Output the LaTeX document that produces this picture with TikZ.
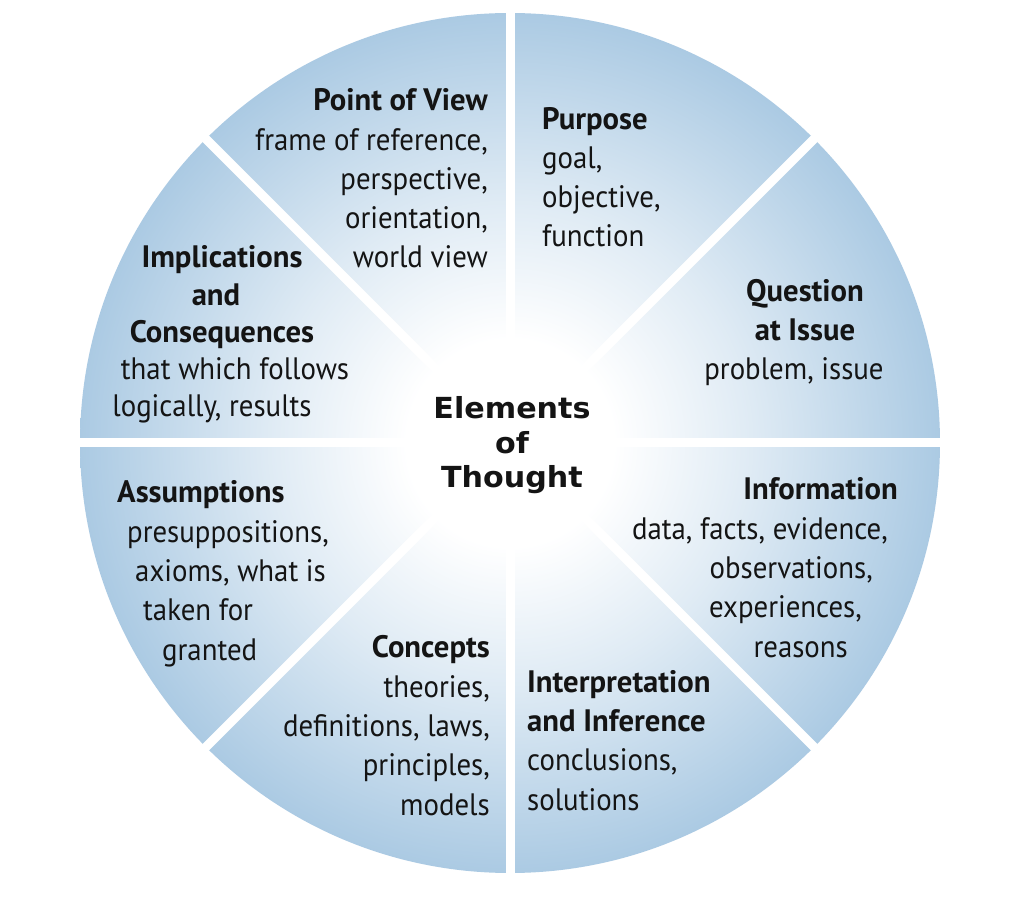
\documentclass[tikz,border=0pt]{standalone}
\usepackage{fontspec}
\setmainfont{PT Sans}[FakeStretch=0.93]
\newfontfamily\headfont{PT Sans}[FakeStretch=0.99]
\newfontfamily\titlefont{DejaVu Sans}[FakeStretch=1.04]
\newcommand{\hd}[1]{{\headfont\bfseries #1}}
\newcommand{\pad}[1]{\hspace*{#1}\mbox{}}
\definecolor{rimblue}{HTML}{ABCAE3}
\definecolor{inkblack}{HTML}{141414}
\pgfdeclareradialshading{thoughtglow}{\pgfpoint{0bp}{0bp}}{color(0bp)=(white); color(6bp)=(white); color(14bp)=(rimblue!38!white); color(25bp)=(rimblue); color(50bp)=(rimblue)}

\begin{document}
\begin{tikzpicture}[x=1pt,y=1pt,
  item/.style={font=\fontsize{31}{39.3}\selectfont, text=inkblack, inner sep=0pt},
  gap/.style={white,line width=9pt}]
\useasboundingbox (0,0) rectangle (1023,898);
\fill[white] (0,0) rectangle (1023,898);

\coordinate (C) at (510,455);
\shade[shading=thoughtglow] (C) circle (430);
\foreach \a in {0,45,...,315}{
  \draw[gap] (C) -- ++(\a:445);
};

% anchors sit on the baseline of each block's last line
\node[item,anchor=base east,align=right] (view) at (488,630)
  {\hd{Point of View}\\frame of reference,\\perspective,\\orientation,\\world view};
\node[item,anchor=base west,align=left] (purpose) at (542,651)
  {\hd{Purpose}\\goal,\\objective,\\function};
\node[item,anchor=base,align=center] (question) at (805,518)
  {\hd{Question}\\\hd{at Issue}\\problem, issue\pad{22pt}};
\node[item,anchor=base east,align=right] (info) at (898,241)
  {\hd{Information}\\data, facts, evidence,\pad{10pt}\\observations,\pad{25pt}\\experiences,\pad{36pt}\\reasons\pad{50pt}};
\node[item,anchor=base west,align=left] (infer) at (527,88)
  {\hd{Interpretation}\\\hd{and Inference}\\conclusions,\\solutions};
\node[item,anchor=base east,align=right] (concepts) at (490,83)
  {\hd{Concepts}\\theories,\\definitions, laws,\\principles,\\models};
\node[item,anchor=base west,align=left] (assume) at (117,238)
  {\hd{Assumptions}\\\hspace*{10pt}presuppositions,\\\hspace*{18pt}axioms, what is\\\hspace*{26pt}taken for\\\hspace*{45pt}granted};
\node[item,font=\fontsize{31}{37.3}\selectfont,anchor=base,align=center] (implic) at (222,481)
  {\hd{Implications}\\\hd{and}\pad{12pt}\\\hd{Consequences}\\\hspace*{26pt}that which follows\\logically, results\pad{20pt}};

\node[font=\titlefont\bfseries\fontsize{29}{34.5}\selectfont,text=inkblack,inner sep=0pt,
  anchor=base,align=center] (core) at (512,410) {Elements\\of\\Thought};
\end{tikzpicture}
\end{document}
